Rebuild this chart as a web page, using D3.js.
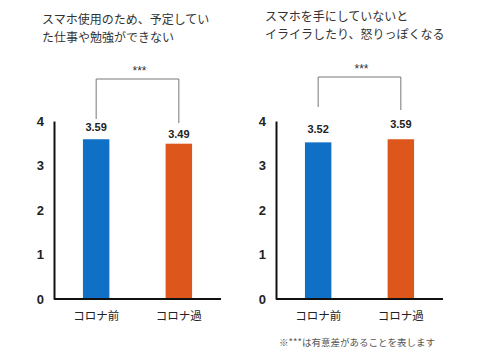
<!DOCTYPE html>
<html>
<head>
<meta charset="utf-8">
<script src="https://cdn.jsdelivr.net/npm/d3@7"></script>
<style>
  body { margin: 0; background: #fff; }
</style>
</head>
<body>
<div id="chart"></div>
<script>
const categories = ['コロナ前', 'コロナ過']
const valuesA = [3.59, 3.49]
const valuesB = [3.52, 3.59]
const yTicks = [0, 1, 2, 3, 4]
const titlesA = ['スマホ使用のため、予定してい', 'た仕事や勉強ができない']
const titlesB = ['スマホを手にしていないと', 'イライラしたり、怒りっぽくなる']
const sigMark = '***'
const note = '※***は有意差があることを表します'

const colors = ['#1070c6', '#dd561b']
const jpFont = '"Noto Sans CJK JP", sans-serif'
const numFont = '"Liberation Sans", Arial, sans-serif'

const svg = d3.select('#chart').append('svg')
    .attr('width', 480)
    .attr('height', 360)

const y = d3.scaleLinear().domain([0, 4]).range([299, 121])

// one panel = title + axis + two bars + bracket
function panel (opt) {
    const g = svg.append('g')

    const x = d3.scaleBand()
        .domain(categories)
        .range([opt.x0, opt.x1])
        .paddingInner(0.68)
        .paddingOuter(0.35)

    g.selectAll('.title').data(opt.titles).enter()
        .append('text')
        .attr('x', opt.titleX)
        .attr('y', (d, i) => opt.titleY + i * 18)
        .attr('font-family', jpFont)
        .attr('font-size', 12)
        .attr('fill', '#333')
        .text(d => d)

    // y axis
    const yAxis = g.append('g')
        .attr('transform', `translate(${opt.x0},0)`)
        .call(d3.axisLeft(y).tickValues(yTicks).tickSize(0).tickSizeOuter(0).tickPadding(10).tickFormat(d3.format('d')))
    yAxis.select('.domain').attr('stroke', '#111').attr('stroke-width', 2)
    yAxis.selectAll('text')
        .attr('font-family', numFont)
        .attr('font-size', 13)
        .attr('font-weight', 'bold')
        .attr('fill', '#222')

    // x axis line
    g.append('line')
        .attr('x1', opt.x0)
        .attr('x2', opt.x1)
        .attr('y1', y(0))
        .attr('y2', y(0))
        .attr('stroke', '#111')
        .attr('stroke-width', 2)

    g.selectAll('.bar').data(opt.values).enter()
        .append('rect')
        .attr('x', (d, i) => x(categories[i]))
        .attr('y', d => y(d))
        .attr('width', x.bandwidth())
        .attr('height', d => y(0) - y(d) - 1)
        .attr('fill', (d, i) => colors[i])

    g.selectAll('.val').data(opt.values).enter()
        .append('text')
        .attr('x', (d, i) => x(categories[i]) + x.bandwidth() / 2)
        .attr('y', (d, i) => y(d) - opt.labelGap[i])
        .attr('text-anchor', 'middle')
        .attr('font-family', numFont)
        .attr('font-size', 11)
        .attr('font-weight', 'bold')
        .attr('fill', '#222')
        .text(d => d.toFixed(2))

    g.selectAll('.cat').data(categories).enter()
        .append('text')
        .attr('x', d => x(d) + x.bandwidth() / 2)
        .attr('y', 320)
        .attr('text-anchor', 'middle')
        .attr('font-family', jpFont)
        .attr('font-size', 11.5)
        .attr('fill', '#222')
        .text(d => d)

    // significance bracket
    const cx0 = x(categories[0]) + x.bandwidth() / 2
    const cx1 = x(categories[1]) + x.bandwidth() / 2
    g.append('path')
        .attr('d', `M${cx0},${opt.legEnd[0]}V${opt.bracketY}H${cx1}V${opt.legEnd[1]}`)
        .attr('fill', 'none')
        .attr('stroke', '#777')
        .attr('stroke-width', 1)
    g.append('text')
        .attr('x', (cx0 + cx1) / 2 + 2)
        .attr('y', opt.bracketY - 4)
        .attr('text-anchor', 'middle')
        .attr('font-family', numFont)
        .attr('font-size', 12)
        .attr('fill', '#333')
        .text(sigMark)
}

panel({
    x0: 54, x1: 221, values: valuesA, titles: titlesA,
    titleX: 42, titleY: 24, bracketY: 79, legEnd: [119, 123], labelGap: [8, 6]
})
panel({
    x0: 276, x1: 443, values: valuesB, titles: titlesB,
    titleX: 265, titleY: 21, bracketY: 77, legEnd: [107, 110], labelGap: [9, 11]
})

svg.append('text')
    .attr('x', 357)
    .attr('y', 346)
    .attr('text-anchor', 'middle')
    .attr('font-family', jpFont)
    .attr('font-size', 9.5)
    .attr('fill', '#555')
    .text(note)
</script>
</body>
</html>
